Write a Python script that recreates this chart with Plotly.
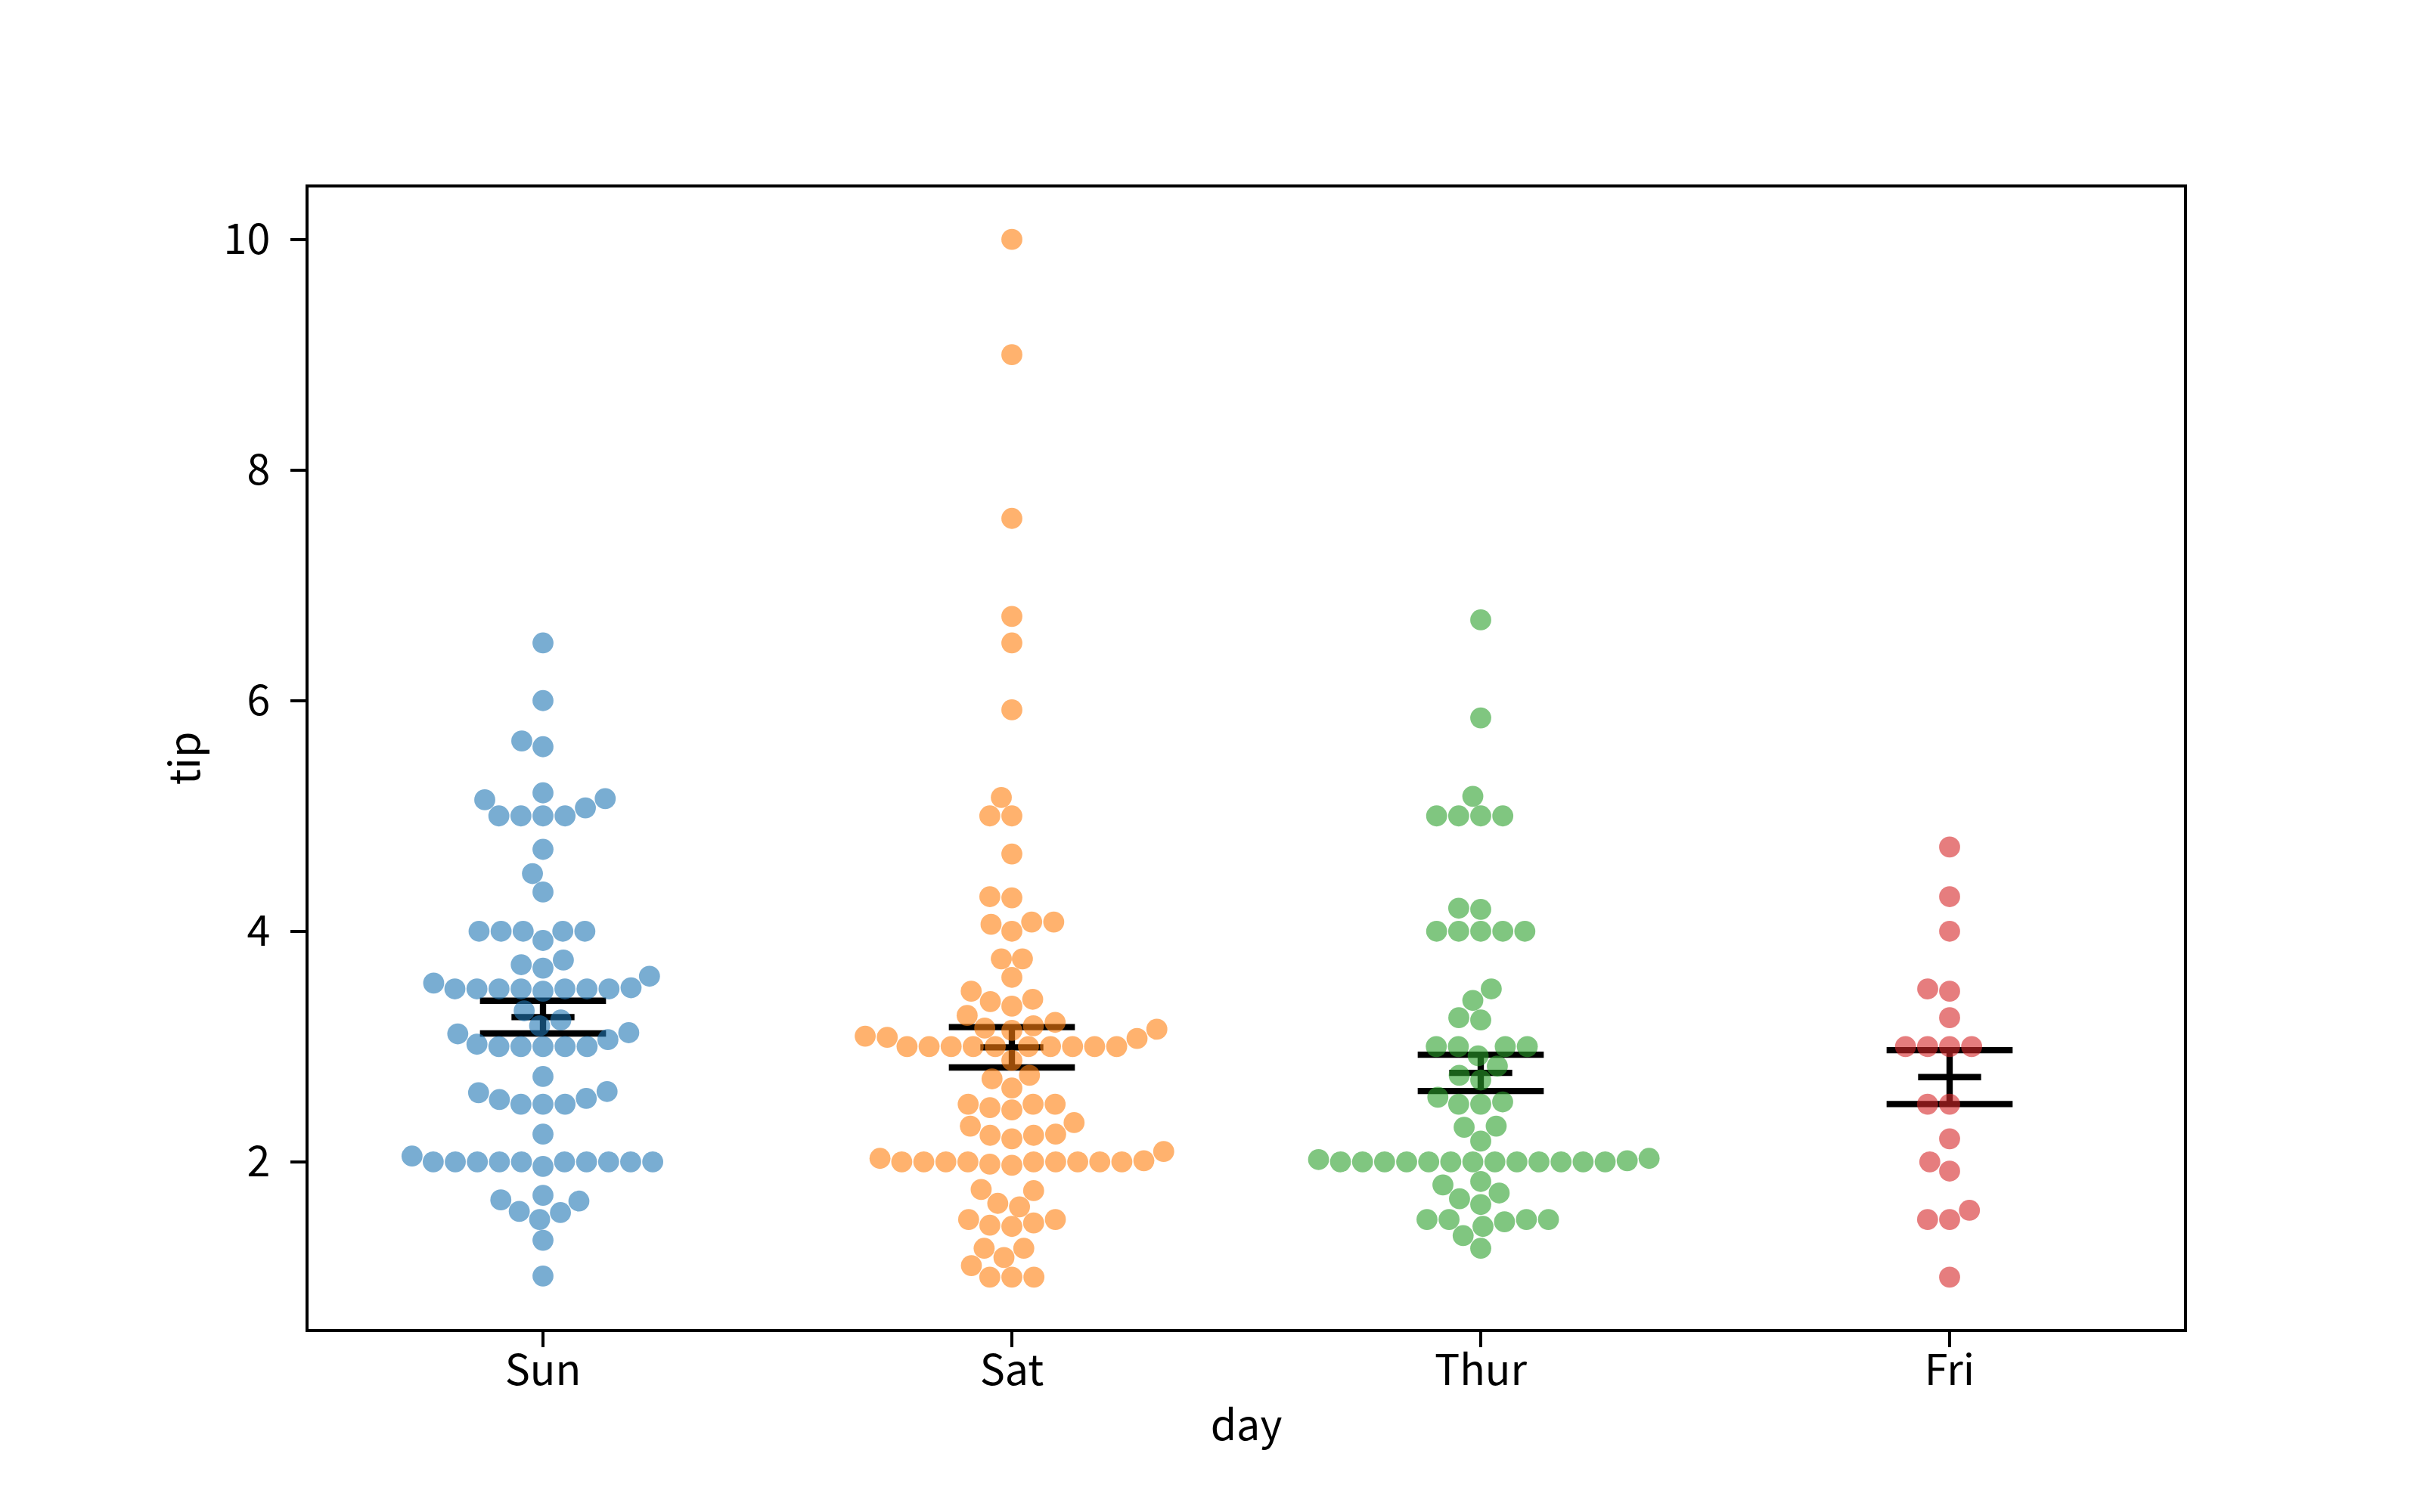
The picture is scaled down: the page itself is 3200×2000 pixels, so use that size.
import numpy as np
import plotly.graph_objects as go

# ---------------- data ----------------
days = ["Sun", "Sat", "Thur", "Fri"]

tips_sun = [1.01, 1.66, 3.5, 3.31, 3.61, 4.71, 2.0, 3.12, 1.96, 3.23, 1.71, 5.0, 1.57, 3.0, 3.02, 3.92, 1.67, 3.71, 3.5,
            2.54, 3.06, 1.32, 5.6, 3.0, 5.0, 6.0, 2.05, 3.0, 2.5, 2.6, 5.2, 1.56, 4.34, 3.51,
            4.0, 2.55, 4.0, 3.5, 5.07,
            2.5, 2.0, 2.74, 2.0, 2.0, 5.14, 5.0, 3.75, 2.61, 2.0, 3.5, 2.5, 2.0, 2.0, 3.0, 3.48, 2.24, 4.5,
            5.15, 3.18, 4.0, 3.11, 2.0, 2.0, 4.0, 3.55, 3.68, 5.65, 3.5, 6.5, 3.0, 5.0, 3.5, 2.0, 3.5, 4.0, 1.5]

tips_sat = [3.35, 4.08, 2.75, 2.23, 7.58, 3.18, 2.34, 2.0, 2.0, 4.3, 3.0, 1.45, 2.5, 3.0, 2.45, 3.27, 3.6, 2.0, 3.07,
            2.31, 5.0, 2.24,
            3.0, 1.5, 1.76, 6.73, 3.21, 2.0, 1.98, 3.76, 2.64, 3.15, 2.47, 1.0, 2.01, 2.09, 1.97, 3.0, 3.14, 5.0,
            2.2, 1.25, 3.08,
            2.5, 3.48, 4.08, 1.64, 4.06, 4.29, 3.76, 4.0, 3.0, 1.0,
            1.61, 2.0, 10.0, 3.16,
            3.41, 3.0, 2.03, 2.23, 2.0, 5.16, 9.0, 2.5, 6.5, 1.1, 3.0, 1.5, 1.44, 3.09,
            3.0, 2.72, 2.88, 2.0, 3.0, 3.39, 1.47, 3.0, 1.25, 1.0, 1.17, 4.67, 5.92, 2.0, 2.0, 1.75]

tips_thur = [4.0, 3.0, 2.71, 3.0, 3.4, 1.83, 5.0, 2.03, 5.17, 2.0, 4.0, 5.85, 3.0,
             1.5, 1.8, 2.92, 2.31, 1.68, 2.5, 2.0, 2.52, 4.2, 1.48, 2.0, 2.0, 2.18, 1.5, 2.83, 1.5, 2.0, 3.25,
             1.25, 2.0, 2.0, 2.0, 2.75, 3.5, 6.7, 5.0, 5.0, 2.3, 1.5, 1.36, 1.63, 1.73, 2.0,
             4.19, 2.56, 2.02, 4.0, 1.44, 2.0, 5.0, 2.0, 2.0, 4.0, 2.01, 2.0, 2.5, 4.0, 3.23,
             3.0]

tips_fri = [3.0, 3.5, 1.0, 4.3, 3.25, 4.73, 4.0, 1.5, 3.0, 1.5, 2.5, 3.0,
            2.2, 3.48, 1.92, 3.0, 1.58, 2.5, 2.0]

tips_by_day = [tips_sun, tips_sat, tips_thur, tips_fri]
colors = ["#1f77b4", "#ff7f0e", "#2ca02c", "#d62728"]
y_ticks = [2, 4, 6, 8, 10]

# ---------------- output geometry (8x5in figure shown @400dpi) ----------------
W, H = 3200, 2000
ML, MR, MT, MB = 400, 320, 240, 250
DPI = 400
PT = DPI / 72.0

xlim = (-0.5, len(days) - 0.5)
allv = np.concatenate([np.asarray(v, float) for v in tips_by_day])
delta = (allv.max() - allv.min()) * 0.05
ylim = (allv.min() - delta, allv.max() + delta)

# ---------------- swarm layout space (figure at 100 dpi, like the drawing canvas) ----------------
SW_DPI = 100.0
FIG_W_IN, FIG_H_IN = 8.0, 5.0
fw, fh = FIG_W_IN * SW_DPI, FIG_H_IN * SW_DPI
bx0, bx1 = 0.125 * fw, 0.9 * fw
by0, by1 = 0.125 * fh, 0.88 * fh
bw, bh = bx1 - bx0, by1 - by0

ax_m00 = bw * (1.0 / (xlim[1] - xlim[0]))
ax_m02 = bw * (-xlim[0] * (1.0 / (xlim[1] - xlim[0]))) + bx0
ax_m11 = bh * (1.0 / (ylim[1] - ylim[0]))
ax_m12 = bh * (-ylim[0] * (1.0 / (ylim[1] - ylim[0]))) + by0

marker_pt = 5.0
sw_radius = (np.sqrt(marker_pt ** 2) + 0.0) / 2 * (SW_DPI / 72)


def classic_argsort(v):
    v = [float(a) for a in v]
    n = len(v)
    idx = list(range(n))
    if n < 2:
        return np.array(idx, dtype=int)
    stack = []
    pl, pr = 0, n - 1
    while True:
        while (pr - pl) > 16:
            pm = pl + ((pr - pl) >> 1)
            if v[idx[pm]] < v[idx[pl]]:
                idx[pm], idx[pl] = idx[pl], idx[pm]
            if v[idx[pr]] < v[idx[pm]]:
                idx[pr], idx[pm] = idx[pm], idx[pr]
            if v[idx[pm]] < v[idx[pl]]:
                idx[pm], idx[pl] = idx[pl], idx[pm]
            vp = v[idx[pm]]
            pi = pl
            pj = pr - 1
            idx[pm], idx[pj] = idx[pj], idx[pm]
            while True:
                pi += 1
                while v[idx[pi]] < vp:
                    pi += 1
                pj -= 1
                while vp < v[idx[pj]]:
                    pj -= 1
                if pi >= pj:
                    break
                idx[pi], idx[pj] = idx[pj], idx[pi]
            pk = pr - 1
            idx[pi], idx[pk] = idx[pk], idx[pi]
            if pi - pl < pr - pi:
                stack.append((pi + 1, pr))
                pr = pi - 1
            else:
                stack.append((pl, pi - 1))
                pl = pi + 1
        for pi in range(pl + 1, pr + 1):
            vi = idx[pi]
            vpp = v[vi]
            pj = pi
            while pj > pl and vpp < v[idx[pj - 1]]:
                idx[pj] = idx[pj - 1]
                pj -= 1
            idx[pj] = vi
        if not stack:
            break
        pl, pr = stack.pop()
    return np.array(idx, dtype=int)


def could_overlap(xyr_i, swarm):
    _, y_i, r_i = xyr_i
    nb = []
    for xyr_j in reversed(swarm):
        _, y_j, r_j = xyr_j
        if (y_i - y_j) < (r_i + r_j):
            nb.append(xyr_j)
        else:
            break
    return np.array(nb)[::-1] if nb else np.empty((0, 3))


def position_candidates(xyr_i, neighbors):
    cands = [xyr_i]
    x_i, y_i, r_i = xyr_i
    left_first = True
    for x_j, y_j, r_j in neighbors:
        dy = y_i - y_j
        dx = np.sqrt(max((r_i + r_j) ** 2 - dy ** 2, 0)) * 1.05
        cl, cr = (x_j - dx, y_i, r_i), (x_j + dx, y_i, r_i)
        cands.extend([cl, cr] if left_first else [cr, cl])
        left_first = not left_first
    return np.array(cands)


def first_ok(cands, neighbors):
    if len(neighbors) == 0:
        return cands[0]
    nx, ny, nr = neighbors[:, 0], neighbors[:, 1], neighbors[:, 2]
    for c in cands:
        d2 = np.square(nx - c[0]) + np.square(ny - c[1])
        if np.all(d2 >= np.square(nr + c[2])):
            return c
    return cands[0]


def beeswarm_x(values, center):
    v = np.asarray(values, float)
    ypx = ax_m11 * v + ax_m12
    xpx = np.full_like(ypx, ax_m00 * center + ax_m02)
    xyr = np.c_[xpx, ypx, np.full_like(ypx, sw_radius)]
    sorter = classic_argsort(xyr[:, 1])
    o = xyr[sorter]
    midline = o[0, 0]
    swarm = np.atleast_2d(o[0])
    for p in o[1:]:
        nb = could_overlap(p, swarm)
        c = position_candidates(p, nb)
        c = c[classic_argsort(np.abs(c[:, 0] - midline))]
        swarm = np.vstack([swarm, first_ok(c, nb)])
    new = np.empty_like(swarm)
    new[sorter] = swarm
    xs = (new[:, 0] - ax_m02) / ax_m00
    half = 0.8 / 2
    return np.clip(xs, center - half, center + half)


fig = go.Figure()

# error bars: mean +- standard error
means = [float(np.mean(v)) for v in tips_by_day]
ses = [float(np.std(v, ddof=1) / np.sqrt(len(v))) for v in tips_by_day]
fig.add_trace(go.Scatter(
    x=list(range(len(days))), y=means, mode="markers",
    marker=dict(symbol="line-ew", size=15 * PT / 1.4, color="black",
                line=dict(color="black", width=1.5 * PT)),
    error_y=dict(type="data", array=ses, symmetric=True, color="black",
                 thickness=1.5 * PT, width=15 * PT),
    showlegend=False, hoverinfo="skip"))

for i, (vals, col) in enumerate(zip(tips_by_day, colors)):
    xs = beeswarm_x(vals, i)
    fig.add_trace(go.Scatter(
        x=xs, y=vals, mode="markers",
        marker=dict(size=marker_pt * PT, color=col, opacity=0.6, line=dict(width=0)),
        name=days[i], showlegend=False))

FONT = "Noto Sans CJK JP"
FS = 10 * PT
axis_common = dict(
    showline=True, linecolor="black", linewidth=0.8 * PT, mirror=True,
    ticks="outside", ticklen=3.5 * PT, tickwidth=0.8 * PT, tickcolor="black",
    showgrid=False, zeroline=False,
    tickfont=dict(family=FONT, size=FS, color="black"),
)
fig.update_layout(
    width=W, height=H,
    margin=dict(l=ML, r=MR, t=MT, b=MB, pad=0),
    paper_bgcolor="white", plot_bgcolor="white",
    font=dict(family=FONT, size=FS, color="black"),
    xaxis=dict(range=list(xlim), tickmode="array", tickvals=list(range(len(days))),
               ticktext=days, ticklabelstandoff=-16,
               title=dict(text="day", font=dict(family=FONT, size=FS), standoff=20),
               **axis_common),
    yaxis=dict(range=list(ylim), tickmode="array", tickvals=y_ticks,
               ticktext=[str(t) for t in y_ticks], ticklabelstandoff=16,
               title=dict(text="tip", font=dict(family=FONT, size=FS), standoff=14),
               **axis_common),
)

fig.write_html("out.html")
